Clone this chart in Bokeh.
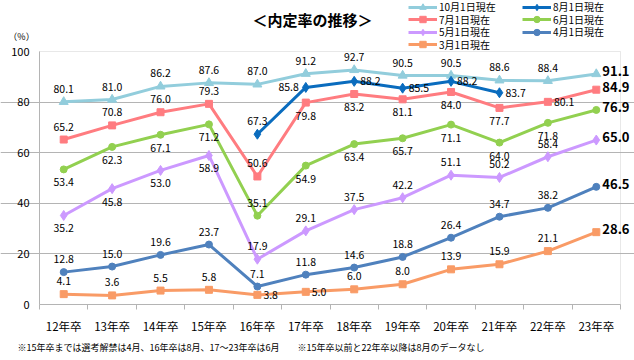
from bokeh.plotting import figure
from bokeh.models import Range1d, FixedTicker, Legend, LegendItem, Label, BoxAnnotation
from bokeh.embed import file_html
from bokeh.resources import INLINE
from bokeh.core.properties import value

categories = ["12年卒", "13年卒", "14年卒", "15年卒", "16年卒", "17年卒",
              "18年卒", "19年卒", "20年卒", "21年卒", "22年卒", "23年卒"]
oct1 = [80.1, 81.0, 86.2, 87.6, 87.0, 91.2, 92.7, 90.5, 90.5, 88.6, 88.4, 91.1]
aug1 = [None, None, None, None, 67.3, 85.8, 88.2, 85.5, 88.2, 83.7, None, None]
jul1 = [65.2, 70.8, 76.0, 79.3, 50.6, 79.8, 83.2, 81.1, 84.0, 77.7, 80.1, 84.9]
jun1 = [53.4, 62.3, 67.1, 71.2, 35.1, 54.9, 63.4, 65.7, 71.1, 64.0, 71.8, 76.9]
may1 = [35.2, 45.8, 53.0, 58.9, 17.9, 29.1, 37.5, 42.2, 51.1, 50.2, 58.4, 65.0]
apr1 = [12.8, 15.0, 19.6, 23.7, 7.1, 11.8, 14.6, 18.8, 26.4, 34.7, 38.2, 46.5]
mar1 = [4.1, 3.6, 5.5, 5.8, 3.8, 5.0, 6.0, 8.0, 13.9, 15.9, 21.1, 28.6]
y_ticks = [0, 20, 40, 60, 80, 100]

series_names = ["10月1日現在", "8月1日現在", "7月1日現在", "6月1日現在",
                "5月1日現在", "4月1日現在", "3月1日現在"]

title_text = "＜内定率の推移＞"
unit_text = "（%）"
note1 = "※15年卒までは選考解禁は4月、16年卒は8月、17～23年卒は6月"
note2 = "※15年卒以前と22年卒以降は8月のデータなし"

# label placement: a=above, b=below, l=left, r=right, R=bold right (last point)
pos_oct = ["a"] * 11 + ["R"]
pos_aug = [None] * 4 + ["a", "l", "r", "r", "r", "r"] + [None, None]
pos_jul = ["a", "a", "a", "a", "a", "b", "b", "b", "b", "b", "r", "R"]
pos_jun = ["b", "b", "b", "b", "a", "b", "b", "b", "b", "b", "b", "R"]
pos_may = ["b", "b", "b", "b", "a", "a", "a", "a", "a", "a", "a", "R"]
pos_apr = ["a"] * 11 + ["R"]
pos_mar = ["a", "a", "a", "a", "r", "r", "a", "a", "a", "a", "a", "R"]

FONT = "Noto Sans CJK JP"

styles = [
    dict(color="#92CDDC", marker="triangle", size=9),
    dict(color="#0A6CBE", marker="diamond", size=10),
    dict(color="#FF7C80", marker="square", size=7),
    dict(color="#92D050", marker="circle", size=7),
    dict(color="#CC99FF", marker="diamond", size=10),
    dict(color="#4F81BD", marker="circle", size=7),
    dict(color="#F99B66", marker="square", size=7),
]
all_series = [oct1, aug1, jul1, jun1, may1, apr1, mar1]
all_pos = [pos_oct, pos_aug, pos_jul, pos_jun, pos_may, pos_apr, pos_mar]

# canvas geometry (pixels): plot box spans x 39..620, y 51 (=100) .. 304 (=0)
W, H = 634, 360
PL, PR, PT, PB = 39, 620, 51, 304
n = len(categories)
xpx = (PR - PL) / n
ypx = (PB - PT) / 100.0
x_start = -PL / xpx
x_end = n + (W - PR) / xpx
y_end = 100 + PT / ypx
y_start = -(H - PB) / ypx

p = figure(width=W, height=H, output_backend="svg", toolbar_location=None,
           x_range=Range1d(x_start, x_end), y_range=Range1d(y_start, y_end),
           min_border=0, min_border_left=0, min_border_right=0,
           min_border_top=0, min_border_bottom=0,
           background_fill_color="white", border_fill_color="white")
p.outline_line_color = None

xs = [i + 0.5 for i in range(n)]

grid_col = "#B4B4B4"
p.xgrid.visible = False
p.ygrid.grid_line_color = grid_col
p.ygrid.ticker = FixedTicker(ticks=y_ticks[1:-1])
p.ygrid.bounds = (0, n)

p.add_layout(BoxAnnotation(left=0, right=n, bottom=0, top=100, fill_color=None,
                           line_color=grid_col, line_width=1, level="underlay"))

xa = p.xaxis[0]
xa.fixed_location = 0
xa.bounds = (0, n)
xa.ticker = FixedTicker(ticks=xs, minor_ticks=list(range(n + 1)))
xa.major_label_overrides = {x: c for x, c in zip(xs, categories)}
xa.major_tick_out = 0
xa.major_tick_in = 0
xa.minor_tick_out = 5
xa.minor_tick_in = 0
xa.minor_tick_line_color = grid_col
xa.axis_line_color = grid_col
xa.major_label_standoff = 8
xa.major_label_text_font = FONT
xa.major_label_text_font_size = "11.5px"
xa.major_label_text_color = "black"

ya = p.yaxis[0]
ya.fixed_location = 0
ya.bounds = (0, 100)
ya.ticker = FixedTicker(ticks=y_ticks)
ya.major_tick_out = 0
ya.major_tick_in = 0
ya.minor_tick_out = 0
ya.minor_tick_in = 0
ya.axis_line_color = grid_col
ya.major_label_standoff = 10
ya.major_label_text_font = FONT
ya.major_label_text_font_size = "11px"
ya.major_label_text_color = "black"

placements = {
    "a": dict(text_align="center", x_offset=0, y_offset=-13, text_font_size="10.5px", text_font_style="normal"),
    "b": dict(text_align="center", x_offset=0, y_offset=13, text_font_size="10.5px", text_font_style="normal"),
    "l": dict(text_align="right", x_offset=-7, y_offset=0, text_font_size="10.5px", text_font_style="normal"),
    "r": dict(text_align="left", x_offset=6, y_offset=0, text_font_size="10.5px", text_font_style="normal"),
    "R": dict(text_align="left", x_offset=6, y_offset=-3, text_font_size="13px", text_font_style="bold"),
}

renderers = []
for vals, st in zip(all_series, styles):
    px = [x for x, v in zip(xs, vals) if v is not None]
    py = [v for v in vals if v is not None]
    lr = p.line(px, py, line_color=st["color"], line_width=3)
    sr = p.scatter(px, py, marker=st["marker"], size=st["size"],
                   fill_color=st["color"], line_color=st["color"])
    renderers.append((lr, sr))

for vals, pos in zip(all_series, all_pos):
    for code, cfg in placements.items():
        lx = [x for x, v, c in zip(xs, vals, pos) if v is not None and c == code]
        ly = [v for v, c in zip(vals, pos) if v is not None and c == code]
        if not lx:
            continue
        p.text(lx, ly, text=["%.1f" % v for v in ly], text_baseline="middle",
               text_font=value(FONT), text_color="black", **cfg)

# legends: two columns, one legend per item for exact placement
legend_cols = [[0, 2, 4, 6], [1, 3, 5]]
col_left = [408, 522]
row_centers = [6.5, 19, 31.5, 44]
item_h = 16
for ci, col in enumerate(legend_cols):
    for ri, si in enumerate(col):
        lr, sr = renderers[si]
        lg = Legend(items=[LegendItem(label=series_names[si], renderers=[lr, sr])],
                    location=(col_left[ci], H - (row_centers[ri] + item_h / 2)),
                    padding=0, margin=0, spacing=0, glyph_width=29, glyph_height=item_h,
                    label_height=item_h, label_standoff=2,
                    label_text_font=FONT, label_text_font_size="10px",
                    label_text_color="black",
                    border_line_alpha=0, background_fill_alpha=0)
        p.add_layout(lg, "center")

p.add_layout(Label(x=312, y=H - 19, x_units="screen", y_units="screen",
                   text=title_text, text_font=FONT, text_font_size="15px",
                   text_font_style="bold", text_align="center", text_baseline="middle",
                   text_color="black"))
p.add_layout(Label(x=21, y=H - 35.5, x_units="screen", y_units="screen",
                   text=unit_text, text_font=FONT, text_font_size="9px",
                   text_align="center", text_baseline="middle", text_color="black"))
p.add_layout(Label(x=17, y=H - 347, x_units="screen", y_units="screen",
                   text=note1, text_font=FONT, text_font_size="9px", text_align="left",
                   text_baseline="middle", text_color="black"))
p.add_layout(Label(x=297, y=H - 347, x_units="screen", y_units="screen",
                   text=note2, text_font=FONT, text_font_size="9px", text_align="left",
                   text_baseline="middle", text_color="black"))

open("out.html", "w").write(file_html(p, INLINE))
